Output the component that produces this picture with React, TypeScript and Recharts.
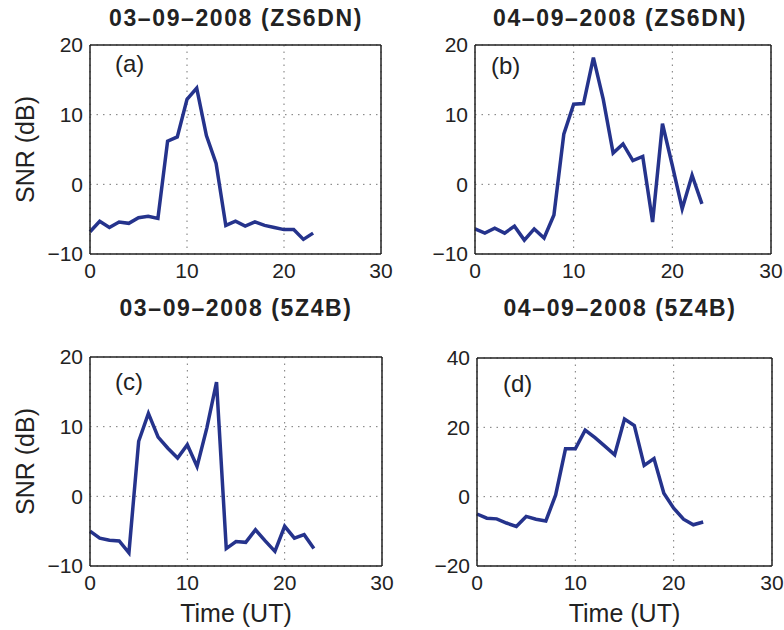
import React from "react";
import { LineChart, Line, XAxis, YAxis, CartesianGrid, ReferenceLine } from "recharts";

const hours = [0, 1, 2, 3, 4, 5, 6, 7, 8, 9, 10, 11, 12, 13, 14, 15, 16, 17, 18, 19, 20, 21, 22, 23];

// SNR (dB) per hour
const snrZs6dn0309 = [-6.8, -5.3, -6.2, -5.4, -5.6, -4.8, -4.6, -4.9, 6.2, 6.8, 12.2, 13.8, 7.0, 3.0, -5.9, -5.3, -6.0, -5.4, -5.9, -6.2, -6.5, -6.5, -7.9, -7.0];
const snrZs6dn0409 = [-6.4, -7.0, -6.3, -7.0, -6.0, -8.0, -6.4, -7.7, -4.4, 7.2, 11.5, 11.6, 18.2, 12.2, 4.5, 5.8, 3.4, 4.0, -5.4, 8.7, 2.7, -3.5, 1.3, -2.8];
const snr5z4b0309 = [-5.0, -6.0, -6.3, -6.4, -8.1, 7.9, 11.9, 8.5, 6.9, 5.5, 7.4, 4.3, 9.8, 16.4, -7.5, -6.5, -6.6, -4.8, -6.4, -7.9, -4.3, -6.0, -5.5, -7.5];
const snr5z4b0409 = [-5.0, -6.2, -6.4, -7.6, -8.6, -5.7, -6.5, -7.0, 0.5, 13.8, 13.8, 19.2, 17.0, 14.6, 12.1, 22.4, 20.5, 9.0, 11.0, 1.0, -3.3, -6.5, -8.1, -7.3];

const xTicks = [0, 10, 20, 30];
const yTicksSmall = [-10, 0, 10, 20];
const yTicksLarge = [-20, 0, 20, 40];

const titles = ["03\u201309\u20132008 (ZS6DN)", "04\u201309\u20132008 (ZS6DN)", "03\u201309\u20132008 (5Z4B)", "04\u201309\u20132008 (5Z4B)"];
const letters = ["(a)", "(b)", "(c)", "(d)"];

const FONT = "'Liberation Sans', Arial, sans-serif";
const LINE_COLOR = "#25338c";

const fmt = (v: number) => String(v).replace("-", "\u2212");

interface PanelProps {
  values: number[];
  yTicks: number[];
  left: number;
  top: number;
  width: number;
  height: number;
  margin: { top: number; right: number; left: number; bottom: number };
  yWidth: number;
  xHeight: number;
  showYLabel: boolean;
  showXLabel: boolean;
}

const Panel: React.FC<PanelProps> = ({ values, yTicks, left, top, width, height, margin, yWidth, xHeight, showYLabel, showXLabel }) => {
  const data = hours.map((h, i) => ({ hour: h, snr: values[i] }));
  const yMin = yTicks[0];
  const yMax = yTicks[yTicks.length - 1];
  return (
    <div style={{ position: "absolute", left, top }}>
      <LineChart width={width} height={height} data={data} margin={margin}>
        <CartesianGrid strokeDasharray="1.5 5" stroke="#777" />
        <XAxis
          dataKey="hour"
          type="number"
          domain={[0, 30]}
          ticks={xTicks}
          height={xHeight}
          tickLine={false}
          tickSize={0}
          tickMargin={9}
          stroke="#222"
          strokeWidth={1.5}
          tickFormatter={fmt}
          tick={{ fill: "#222", fontSize: 21, fontFamily: FONT }}
          label={showXLabel ? { value: "Time (UT)", position: "insideBottom", offset: 8, fill: "#222", fontSize: 25, fontFamily: FONT } : undefined}
        />
        <YAxis
          type="number"
          domain={[yMin, yMax]}
          ticks={yTicks}
          width={yWidth}
          tickLine={false}
          tickSize={0}
          tickMargin={7}
          stroke="#222"
          strokeWidth={1.5}
          tickFormatter={fmt}
          tick={{ fill: "#222", fontSize: 21, fontFamily: FONT }}
          label={showYLabel ? { value: "SNR (dB)", angle: -90, position: "insideLeft", offset: 25, fill: "#222", fontSize: 25, fontFamily: FONT, style: { textAnchor: "middle" } } : undefined}
        />
        <ReferenceLine y={yMax} stroke="#222" strokeWidth={1.5} />
        <ReferenceLine x={30} stroke="#222" strokeWidth={1.5} />
        <Line
          type="linear"
          dataKey="snr"
          stroke={LINE_COLOR}
          strokeWidth={3.5}
          dot={false}
          isAnimationActive={false}
        />
      </LineChart>
    </div>
  );
};

const titleStyle = (left: number, top: number): React.CSSProperties => ({
  position: "absolute",
  left,
  top,
  width: 300,
  textAlign: "center",
  fontFamily: FONT,
  fontWeight: "bold",
  fontSize: 23,
  letterSpacing: 1.6,
  color: "#222",
  lineHeight: "26px",
});

const letterStyle = (left: number, top: number): React.CSSProperties => ({
  position: "absolute",
  left,
  top,
  fontFamily: FONT,
  fontSize: 24,
  color: "#222",
  lineHeight: "28px",
});

export default function App() {
  return (
    <div style={{ position: "absolute", left: 0, top: 0, width: 784, height: 630, background: "#fff", overflow: "hidden" }}>
      <Panel values={snrZs6dn0309} yTicks={yTicksSmall} left={0} top={0} width={400} height={290}
        margin={{ top: 45, right: 19, left: 0, bottom: 0 }} yWidth={90} xHeight={36} showYLabel showXLabel={false} />
      <Panel values={snrZs6dn0409} yTicks={yTicksSmall} left={385} top={0} width={399} height={290}
        margin={{ top: 45, right: 13, left: 0, bottom: 0 }} yWidth={90} xHeight={36} showYLabel={false} showXLabel={false} />
      <Panel values={snr5z4b0309} yTicks={yTicksSmall} left={0} top={290} width={400} height={340}
        margin={{ top: 67, right: 18, left: 0, bottom: 0 }} yWidth={90} xHeight={64} showYLabel showXLabel />
      <Panel values={snr5z4b0409} yTicks={yTicksLarge} left={385} top={290} width={399} height={340}
        margin={{ top: 68, right: 12, left: 0, bottom: 0 }} yWidth={92} xHeight={64} showYLabel={false} showXLabel />

      <div style={titleStyle(86, 5)}>{titles[0]}</div>
      <div style={titleStyle(470, 5)}>{titles[1]}</div>
      <div style={titleStyle(86, 295)}>{titles[2]}</div>
      <div style={titleStyle(470, 295)}>{titles[3]}</div>

      <div style={letterStyle(115, 50)}>{letters[0]}</div>
      <div style={letterStyle(491, 52)}>{letters[1]}</div>
      <div style={letterStyle(115, 368)}>{letters[2]}</div>
      <div style={letterStyle(503, 370)}>{letters[3]}</div>
    </div>
  );
}
